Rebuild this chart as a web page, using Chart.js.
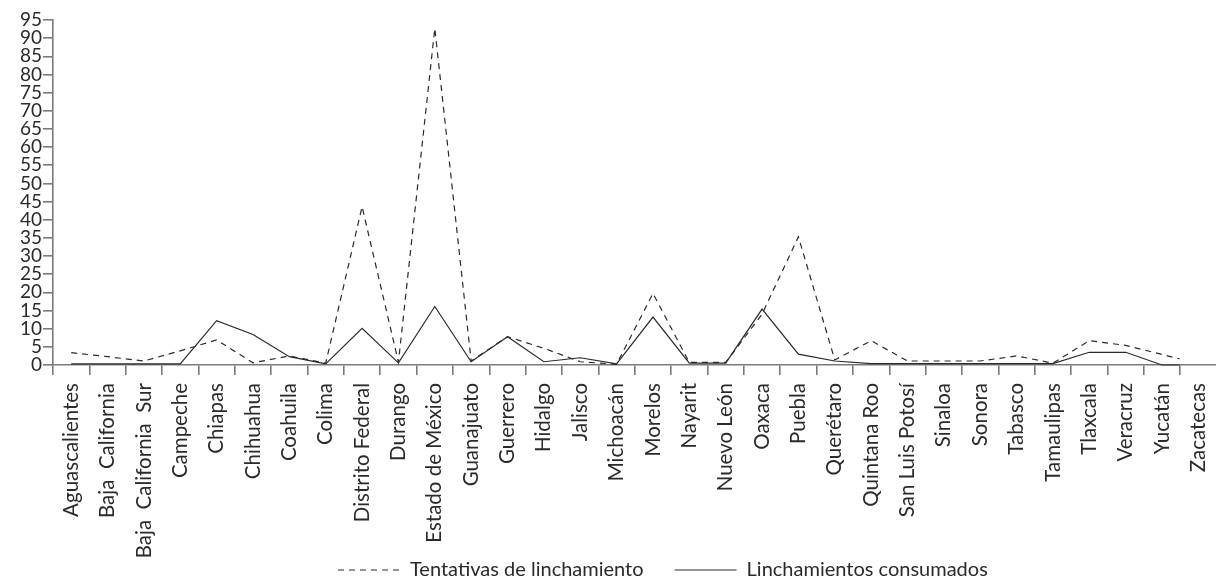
<!DOCTYPE html>
<html>
<head>
<meta charset="utf-8">
<script src="https://cdn.jsdelivr.net/npm/chart.js@4/dist/chart.umd.min.js"></script>
<style>
  html, body { margin: 0; padding: 0; background: #fff; overflow: hidden; }
  #wrap { position: relative; width: 1216px; height: 581px; overflow: hidden; }
  #box { position: absolute; left: 0; top: 0; width: 1231px; height: 581px; }
</style>
</head>
<body>
<div id="wrap"><div id="box"><canvas id="c"></canvas></div></div>
<script>
const categories = ["Aguascalientes", "Baja  California", "Baja  California  Sur", "Campeche", "Chiapas", "Chihuahua", "Coahuila", "Colima", "Distrito Federal", "Durango", "Estado de México", "Guanajuato", "Guerrero", "Hidalgo", "Jalisco", "Michoacán", "Morelos", "Nayarit", "Nuevo León", "Oaxaca", "Puebla", "Querétaro", "Quintana Roo", "San Luis Potosí", "Sinaloa", "Sonora", "Tabasco", "Tamaulipas", "Tlaxcala", "Veracruz", "Yucatán", "Zacatecas"];
const tentativas = [3.4, 2.3, 1.1, 3.9, 6.9, 0.6, 2.5, 0.5, 43.6, 0.8, 92.7, 1.1, 7.8, 4.6, 0.9, 0.2, 19.7, 0.7, 0.7, 14, 35.3, 1.4, 6.7, 1.1, 1.1, 1.1, 2.5, 0.5, 6.7, 5.4, 2.9, 0.4];
const consumados = [0.3, 0.3, 0.3, 0.3, 12.2, 8.4, 2.3, 0.3, 10.1, 0.6, 16.1, 0.9, 7.8, 0.9, 2.0, 0.3, 13.2, 0.5, 0.5, 15.4, 3.0, 1.1, 0.4, 0.4, 0.4, 0.4, 0.4, 0.4, 3.5, 3.5, 0, 0];
const seriesNames = ["Tentativas de linchamiento", "Linchamientos consumados"];
const yTicks = { min: 0, max: 95, step: 5 };

const FONT = "Lato, 'Open Sans', sans-serif";
const AXIS = "#7a7a7a";
const INK = "#2a2a2a";
const LEGEND_PAD = 31;

const layoutTweak = {
  id: 'layoutTweak',
  afterLayout(chart) {
    const lg = chart.legend;
    if (lg) {
      const w = lg.right - lg.left;
      lg.left = 338 - LEGEND_PAD;
      lg.right = lg.left + w;
      lg.top += 9;
      lg.bottom += 9;
    }
    const x = chart.scales.x;
    x.bottom = 560;
  }
};

new Chart(document.getElementById('c'), {
  type: 'line',
  data: {
    labels: categories,
    datasets: [
      {
        label: seriesNames[0],
        data: tentativas,
        borderColor: INK,
        backgroundColor: INK,
        borderWidth: 1.2,
        borderDash: [6, 5],
        pointRadius: 0,
        pointStyle: 'line',
        tension: 0,
        clip: { left: 5, top: 5, right: -37, bottom: 5 }
      },
      {
        label: seriesNames[1],
        data: consumados,
        borderColor: INK,
        backgroundColor: INK,
        borderWidth: 1.2,
        pointRadius: 0,
        pointStyle: 'line',
        tension: 0,
        clip: { left: 5, top: 5, right: -37, bottom: 5 }
      }
    ]
  },
  options: {
    responsive: true,
    maintainAspectRatio: false,
    animation: false,
    layout: { padding: { left: 0, right: 0, top: 20, bottom: 0 } },
    plugins: {
      tooltip: { enabled: false },
      legend: {
        position: 'bottom',
        align: 'start',
        labels: {
          usePointStyle: true,
          pointStyleWidth: 62,
          boxHeight: 20,
          padding: LEGEND_PAD,
          color: INK,
          font: { family: FONT, size: 20 },
          generateLabels(chart) {
            const items = Chart.defaults.plugins.legend.labels.generateLabels(chart);
            items.forEach(it => {
              const ds = chart.data.datasets[it.datasetIndex];
              it.lineDash = ds.borderDash || [];
              it.lineWidth = 1.2;
              it.strokeStyle = INK;
            });
            return items;
          }
        }
      }
    },
    scales: {
      x: {
        type: 'category',
        offset: true,
        border: { display: true, color: AXIS, width: 1.6 },
        grid: { display: true, offset: true, drawOnChartArea: false, drawTicks: true, tickLength: 10, color: AXIS, lineWidth: 1.6 },
        ticks: {
          autoSkip: false,
          minRotation: 90,
          maxRotation: 90,
          padding: 8,
          color: INK,
          font: { family: FONT, size: 20.5 }
        },
        afterFit(scale) { scale.height = 581 - 20 - 345 - (20 + LEGEND_PAD + 10); }
      },
      y: {
        min: yTicks.min,
        max: yTicks.max,
        border: { display: true, color: AXIS, width: 1.6 },
        grid: { display: true, drawOnChartArea: false, drawTicks: true, tickLength: 10, color: AXIS, lineWidth: 1.6 },
        ticks: {
          stepSize: yTicks.step,
          autoSkip: false,
          padding: 1,
          color: INK,
          font: { family: FONT, size: 19 }
        },
        afterFit(scale) { scale.width = 53; }
      }
    }
  },
  plugins: [layoutTweak]
});
</script>
</body>
</html>
